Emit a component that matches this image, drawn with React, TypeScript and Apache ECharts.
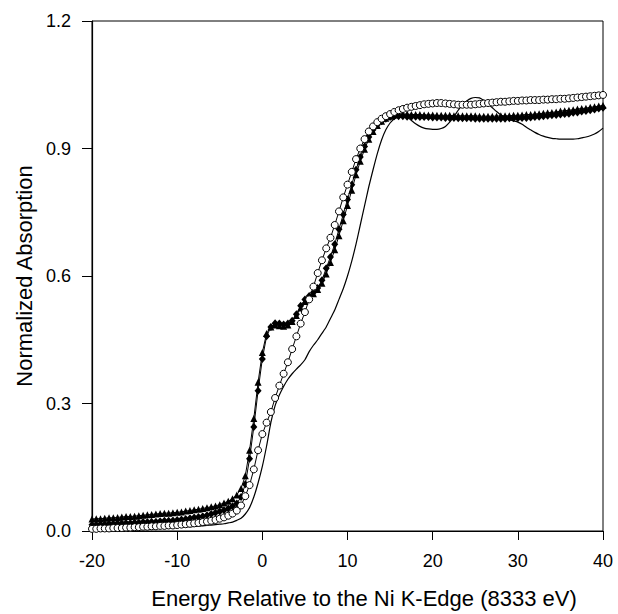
import React, { useEffect, useRef } from "react";
import * as echarts from "echarts";

// Energy relative to the Ni K-edge (eV)
const energy = [
  -20, -19.5, -19, -18.5, -18, -17.5, -17, -16.5, -16, -15.5,
  -15, -14.5, -14, -13.5, -13, -12.5, -12, -11.5, -11, -10.5,
  -10, -9.5, -9, -8.5, -8, -7.5, -7, -6.5, -6, -5.5,
  -5, -4.5, -4, -3.5, -3, -2.5, -2, -1.5, -1, -0.5,
  0, 0.5, 1, 1.5, 2, 2.5, 3, 3.5, 4, 4.5,
  5, 5.5, 6, 6.5, 7, 7.5, 8, 8.5, 9, 9.5,
  10, 10.5, 11, 11.5, 12, 12.5, 13, 13.5, 14, 14.5,
  15, 15.5, 16, 16.5, 17, 17.5, 18, 18.5, 19, 19.5,
  20, 20.5, 21, 21.5, 22, 22.5, 23, 23.5, 24, 24.5,
  25, 25.5, 26, 26.5, 27, 27.5, 28, 28.5, 29, 29.5,
  30, 30.5, 31, 31.5, 32, 32.5, 33, 33.5, 34, 34.5,
  35, 35.5, 36, 36.5, 37, 37.5, 38, 38.5, 39, 39.5,
  40,
];

// Solid line (no markers)
const solidLine = [
  0.004, 0.004, 0.005, 0.005, 0.005, 0.005, 0.005, 0.006, 0.006, 0.006,
  0.006, 0.006, 0.007, 0.007, 0.007, 0.007, 0.008, 0.008, 0.008, 0.009,
  0.009, 0.009, 0.010, 0.010, 0.011, 0.011, 0.012, 0.013, 0.014, 0.015,
  0.016, 0.017, 0.019, 0.021, 0.025, 0.030, 0.040, 0.055, 0.080, 0.113,
  0.152, 0.200, 0.255, 0.295, 0.320, 0.340, 0.357, 0.370, 0.381, 0.391,
  0.403, 0.422, 0.437, 0.450, 0.465, 0.480, 0.500, 0.520, 0.545, 0.570,
  0.600, 0.635, 0.675, 0.720, 0.765, 0.810, 0.850, 0.888, 0.920, 0.944,
  0.960, 0.970, 0.976, 0.977, 0.974, 0.966, 0.958, 0.952, 0.948, 0.946,
  0.945, 0.945, 0.947, 0.952, 0.962, 0.975, 0.990, 1.003, 1.012, 1.018,
  1.020, 1.019, 1.013, 1.005, 0.996, 0.987, 0.979, 0.973, 0.968, 0.965,
  0.962, 0.957, 0.950, 0.944, 0.938, 0.933, 0.929, 0.926, 0.924, 0.923,
  0.922, 0.922, 0.922, 0.922, 0.923, 0.925, 0.927, 0.930, 0.934, 0.940,
  0.948,
];

// Open circles
const circles = [
  0.005, 0.005, 0.006, 0.006, 0.006, 0.007, 0.007, 0.007, 0.008, 0.008,
  0.009, 0.009, 0.010, 0.010, 0.011, 0.011, 0.012, 0.012, 0.013, 0.013,
  0.014, 0.015, 0.016, 0.017, 0.018, 0.019, 0.021, 0.022, 0.024, 0.026,
  0.029, 0.032, 0.036, 0.041, 0.048, 0.060, 0.082, 0.108, 0.145, 0.190,
  0.228, 0.255, 0.280, 0.313, 0.342, 0.370, 0.397, 0.428, 0.458, 0.488,
  0.515, 0.545, 0.575, 0.607, 0.637, 0.665, 0.690, 0.720, 0.752, 0.785,
  0.815, 0.845, 0.875, 0.900, 0.922, 0.940, 0.952, 0.962, 0.970, 0.976,
  0.981, 0.986, 0.990, 0.993, 0.996, 0.998, 1.000, 1.002, 1.004, 1.005,
  1.006, 1.007, 1.007, 1.006, 1.005, 1.004, 1.003, 1.003, 1.003, 1.003,
  1.004, 1.005, 1.006, 1.007, 1.008, 1.009, 1.010, 1.010, 1.011, 1.012,
  1.012, 1.013, 1.013, 1.014, 1.014, 1.014, 1.015, 1.015, 1.016, 1.016,
  1.017, 1.017, 1.018, 1.019, 1.020, 1.021, 1.022, 1.023, 1.024, 1.025,
  1.026,
];

// Filled triangles
const triangles = [
  0.028, 0.029, 0.029, 0.030, 0.031, 0.031, 0.032, 0.033, 0.034, 0.034,
  0.035, 0.036, 0.037, 0.038, 0.039, 0.040, 0.041, 0.042, 0.042, 0.043,
  0.044, 0.045, 0.047, 0.048, 0.050, 0.051, 0.053, 0.055, 0.057, 0.059,
  0.062, 0.066, 0.070, 0.076, 0.085, 0.100, 0.130, 0.190, 0.265, 0.350,
  0.420, 0.465, 0.480, 0.485, 0.483, 0.482, 0.485, 0.493, 0.507, 0.525,
  0.540, 0.550, 0.558, 0.568, 0.583, 0.605, 0.632, 0.662, 0.695, 0.730,
  0.766, 0.802, 0.838, 0.870, 0.898, 0.922, 0.940, 0.954, 0.964, 0.971,
  0.976, 0.979, 0.981, 0.981, 0.981, 0.980, 0.980, 0.980, 0.979, 0.979,
  0.979, 0.978, 0.978, 0.978, 0.978, 0.977, 0.977, 0.977, 0.977, 0.977,
  0.977, 0.976, 0.976, 0.976, 0.976, 0.976, 0.977, 0.977, 0.977, 0.978,
  0.978, 0.979, 0.980, 0.980, 0.981, 0.982, 0.983, 0.984, 0.985, 0.986,
  0.988, 0.989, 0.990, 0.991, 0.993, 0.994, 0.995, 0.997, 0.998, 1.000,
  1.001,
];

// Filled diamonds
const diamonds = [
  0.015, 0.015, 0.016, 0.016, 0.017, 0.017, 0.018, 0.018, 0.019, 0.019,
  0.020, 0.020, 0.021, 0.021, 0.022, 0.022, 0.023, 0.024, 0.024, 0.025,
  0.026, 0.027, 0.028, 0.030, 0.032, 0.033, 0.035, 0.037, 0.040, 0.043,
  0.046, 0.049, 0.053, 0.058, 0.065, 0.080, 0.110, 0.170, 0.245, 0.330,
  0.405, 0.458, 0.480, 0.489, 0.488, 0.486, 0.488, 0.495, 0.510, 0.530,
  0.545, 0.553, 0.561, 0.572, 0.590, 0.618, 0.645, 0.675, 0.710, 0.745,
  0.780, 0.815, 0.850, 0.880, 0.905, 0.927, 0.944, 0.956, 0.964, 0.970,
  0.974, 0.976, 0.976, 0.976, 0.975, 0.975, 0.975, 0.974, 0.974, 0.974,
  0.973, 0.973, 0.973, 0.972, 0.972, 0.972, 0.971, 0.971, 0.971, 0.971,
  0.970, 0.970, 0.970, 0.970, 0.970, 0.970, 0.970, 0.970, 0.971, 0.971,
  0.971, 0.972, 0.972, 0.973, 0.974, 0.975, 0.976, 0.977, 0.978, 0.979,
  0.980, 0.981, 0.982, 0.984, 0.985, 0.987, 0.988, 0.990, 0.992, 0.994,
  0.996,
];

const xTitle = "Energy Relative to the Ni K-Edge (8333 eV)";
const yTitle = "Normalized Absorption";

function toPairs(ys: number[]) {
  return energy.map((x, i) => [x, ys[i]]);
}

const FONT = "'Liberation Sans', Arial, Helvetica, sans-serif";

export default function App() {
  const ref = useRef<HTMLDivElement>(null);

  useEffect(() => {
    if (!ref.current) return;
    const chart = echarts.init(ref.current, undefined, { renderer: "svg" });
    const lineBase = {
      type: "line" as const,
      clip: false,
      showSymbol: true,
      lineStyle: { color: "#000", width: 1 },
      emphasis: { disabled: true },
    };
    chart.setOption({
      animation: false,
      backgroundColor: "#fff",
      grid: {
        left: 92,
        right: 15,
        top: 21,
        bottom: 78,
        show: true,
        borderColor: "#000",
        borderWidth: 1,
        backgroundColor: "transparent",
      },
      xAxis: {
        type: "value",
        min: -20,
        max: 40,
        interval: 10,
        name: xTitle,
        nameLocation: "middle",
        nameGap: 56,
        nameTextStyle: {
          fontFamily: FONT,
          fontSize: 22,
          color: "#000",
          padding: [0, 0, 0, 33],
        },
        axisLine: { show: true, onZero: false, lineStyle: { color: "#000", width: 1.2 } },
        axisTick: { show: true, inside: false, length: 9, lineStyle: { color: "#000", width: 1 } },
        axisLabel: { fontFamily: FONT, fontSize: 18, color: "#000", margin: 21 },
        splitLine: { show: false },
      },
      yAxis: {
        type: "value",
        min: 0,
        max: 1.2,
        interval: 0.3,
        name: yTitle,
        nameLocation: "middle",
        nameGap: 57,
        nameTextStyle: { fontFamily: FONT, fontSize: 22, color: "#000" },
        axisLine: { show: true, onZero: false, lineStyle: { color: "#000", width: 1.2 } },
        axisTick: { show: true, inside: false, length: 10, lineStyle: { color: "#000", width: 1 } },
        axisLabel: {
          fontFamily: FONT,
          fontSize: 18,
          color: "#000",
          margin: 21,
          formatter: (v: number) => v.toFixed(1),
        },
        splitLine: { show: false },
      },
      series: [
        {
          ...lineBase,
          name: "solid",
          showSymbol: false,
          symbol: "none",
          smooth: 0.2,
          lineStyle: { color: "#000", width: 1.2 },
          data: toPairs(solidLine),
        },
        {
          ...lineBase,
          name: "diamonds",
          symbol: "diamond",
          symbolSize: [7, 8],
          itemStyle: { color: "#000" },
          data: toPairs(diamonds),
        },
        {
          ...lineBase,
          name: "triangles",
          symbol: "triangle",
          symbolSize: 7,
          itemStyle: { color: "#000" },
          data: toPairs(triangles),
        },
        {
          ...lineBase,
          name: "circles",
          symbol: "circle",
          symbolSize: 7,
          itemStyle: { color: "#fff", borderColor: "#000", borderWidth: 1 },
          data: toPairs(circles),
        },
      ],
    });
    return () => chart.dispose();
  }, []);

  return (
    <div
      ref={ref}
      style={{ position: "fixed", left: 0, top: 0, width: 618, height: 614, background: "#fff" }}
    />
  );
}
